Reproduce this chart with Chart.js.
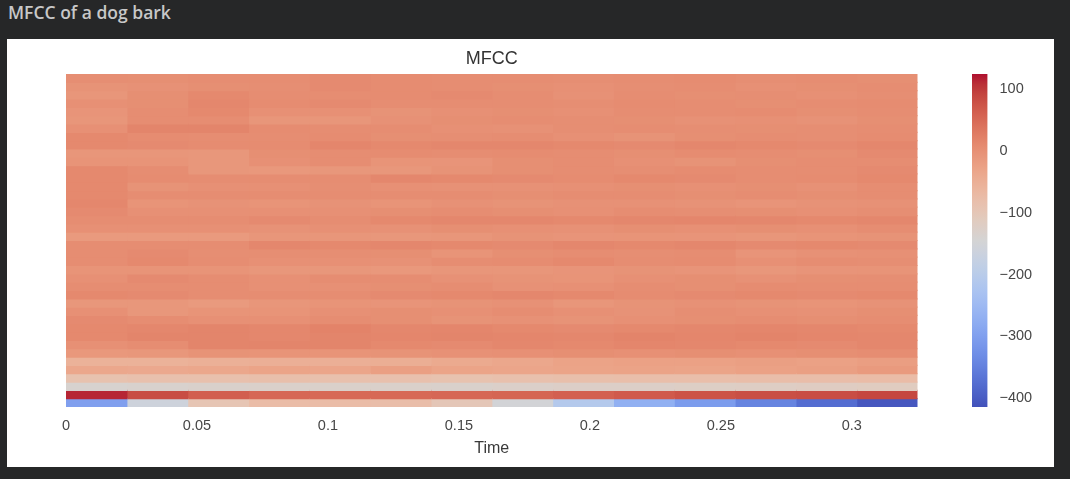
<!DOCTYPE html>
<html>
<head>
<meta charset="utf-8">
<script src="https://cdn.jsdelivr.net/npm/chart.js@4.4.1/dist/chart.umd.min.js"></script>
<style>
  html, body { margin: 0; padding: 0; width: 1070px; height: 479px; overflow: hidden; background: #262728; }
  #hdr { position: absolute; left: 8px; top: 0; line-height: 23px; font: 600 17.5px "Open Sans", "Noto Sans", sans-serif; color: #c8c8c8; white-space: nowrap; }
  #panel { position: absolute; left: 7px; top: 39px; width: 1047px; height: 428px; background: #ffffff; }
  canvas { position: absolute; left: 0; top: 0; }
</style>
</head>
<body>
<div id="hdr">MFCC of a dog bark</div>
<div id="panel"></div>
<canvas id="heat" width="1070" height="479"></canvas>
<canvas id="cbar" width="1070" height="479"></canvas>
<script>
// ---- data: MFCC coefficients (row index 0 = bottom), 14 time frames each ----
const c00 = [-300, -160, -95, -75, -75, -78, -100, -150, -210, -270, -306, -344, -376, -406];
const c01 = [113, 82, 62, 52, 50, 50, 52, 55, 60, 67, 75, 80, 82, 88];
const c02 = [-138, -135, -132, -130, -130, -130, -132, -128, -125, -125, -122, -120, -118, -115];
const c03 = [-88, -85, -85, -82, -85, -85, -88, -85, -82, -80, -80, -78, -78, -75];
const c04 = [-35, -38, -35, -30, -32, -22, -30, -32, -30, -28, -30, -25, -22, -15];
const c05 = [-55, -55, -52, -50, -50, -48, -40, -35, -28, -25, -25, -22, -25, -20];
const c06 = [-12, -10, -4, -5, -5, -4, -2, 0, 2, 0, 2, 0, 2, 4];
const c07 = [0, 5, 15, 15, 15, 10, 8, 12, 10, 14, 12, 10, 8, 12];
const c08 = [10, 15, 15, 12, 15, 14, 15, 14, 12, 16, 14, 16, 14, 12];
const c09 = [10, 12, 15, 12, 18, 12, 14, 10, 8, 10, 12, 14, 12, 10];
const c10 = [8, 5, 0, 0, 5, 2, -4, -2, -4, 0, 2, 4, 2, 4];
const c11 = [0, -10, -5, -5, 0, 2, 0, 4, 0, -3, 3, 0, -2, 2];
const c12 = [-10, -10, -15, -8, -5, -6, -4, -2, -8, -4, -2, -4, -5, -3];
const c13 = [10, 8, 5, 5, 5, 8, 10, 12, 10, 6, 8, 10, 8, 10];
const c14 = [5, 5, 5, 0, 0, 2, 4, -2, 0, 4, 2, 6, 4, 5];
const c15 = [0, 8, 5, 0, 5, 5, -2, -4, -5, 0, 2, -2, 2, 3];
const c16 = [-5, -5, -5, -10, -10, -12, -8, -8, -6, -4, -6, -10, -6, -5];
const c17 = [5, 10, 5, 0, 0, -2, 4, 6, 10, 4, 6, 0, 4, 3];
const c18 = [5, 8, 3, 3, 3, 2, -5, 2, 5, 3, 4, -6, -2, 0];
const c19 = [5, 5, 5, 12, 10, 12, 10, 8, 12, 10, 12, 8, 10, 8];
const c20 = [-15, -15, -14, -8, -8, -10, -8, -4, -6, -5, -6, -8, -5, -4];
const c21 = [0, 0, 0, -3, 0, -2, 2, 0, -2, 2, 0, 2, 0, 4];
const c22 = [5, 5, 5, 8, 5, 10, 12, 12, 10, 12, 14, 12, 10, 12];
const c23 = [8, 0, 0, 0, 0, 2, 4, 2, 0, 4, 3, 2, 0, 3];
const c24 = [12, -5, -3, -5, -3, -5, -2, -4, -2, -2, -3, -6, -3, -2];
const c25 = [10, 5, 5, 5, 5, 4, 4, 2, 4, 5, 2, 4, 2, 4];
const c26 = [10, -4, 0, 0, 3, 0, -2, -2, 0, 2, 0, 2, -2, 4];
const c27 = [10, 6, 5, 5, 5, 12, 10, 8, 6, 10, 8, 5, 6, 10];
const c28 = [10, 5, -10, -12, -10, -10, -4, 2, 5, 3, 6, 4, 5, 8];
const c29 = [-5, -5, -10, 0, 5, -5, -6, 2, 4, 0, -4, 2, 4, 5];
const c30 = [-8, -8, -10, 2, 5, 6, 4, 6, 5, 2, 6, 4, 2, 8];
const c31 = [10, 8, 6, 6, 14, 10, 12, 12, 10, 8, 12, 10, 8, 12];
const c32 = [10, 6, 5, 5, 6, 2, 3, 4, 0, -4, 2, 5, 3, 6];
const c33 = [0, 15, 15, 6, 5, 4, 0, -2, 3, 5, 3, 2, 3, 5];
const c34 = [-8, 4, 5, -8, -8, -2, 2, 5, 3, 2, -2, 0, -3, 2];
const c35 = [-6, 5, 10, 0, 0, -4, 0, 2, 0, 4, 5, 6, 2, 4];
const c36 = [0, 2, 12, 6, 8, 5, 5, 4, 3, 6, 5, 2, 4, 6];
const c37 = [-8, 2, 10, 5, 5, 6, 8, 5, -2, 4, 2, 3, 0, 3];
const c38 = [-4, -2, 2, 3, 8, 6, 4, 2, 0, 3, 4, 0, 2, 5];
const c39 = [3, 2, 4, 5, 8, 6, 5, 4, 3, 5, 6, 3, 4, 2];

const hopSeconds = 512 / 22050;          // frame duration
const frameCount = 14;
const timeTicks = [0, 0.05, 0.1, 0.15, 0.2, 0.25, 0.3];
const timeTickLabels = ['0', '0.05', '0.1', '0.15', '0.2', '0.25', '0.3'];
const colorMin = -414;
const colorMax = 124;
const colorbarTicks = [-400, -300, -200, -100, 0, 100];

// ---- colormap (coolwarm), slightly muted like the reference rendering ----
const coolwarm = [
  [59,76,192],[68,90,204],[77,104,215],[87,117,225],[98,130,234],[108,142,241],[119,154,247],[130,165,251],
  [141,176,254],[152,185,255],[163,194,255],[174,201,253],[184,208,249],[194,213,244],[204,217,238],[213,219,230],
  [221,221,221],[229,216,209],[236,211,197],[241,204,185],[245,196,173],[247,187,160],[247,177,148],[247,166,135],
  [244,154,123],[241,141,111],[236,127,99],[229,112,88],[222,96,77],[213,80,66],[203,62,56],[192,40,47],[180,4,38]
];
function mute(v) { return Math.round(v * 0.9 + 128 * 0.1); }
function stopColor(c) { return `rgb(${mute(c[0])},${mute(c[1])},${mute(c[2])})`; }
function colorAt(t) {
  t = Math.max(0, Math.min(1, t));
  const p = t * (coolwarm.length - 1);
  const i = Math.min(Math.floor(p), coolwarm.length - 2);
  const f = p - i;
  const a = coolwarm[i], b = coolwarm[i + 1];
  return stopColor([0, 1, 2].map(k => a[k] + (b[k] - a[k]) * f));
}
function colorFor(v) { return colorAt((v - colorMin) / (colorMax - colorMin)); }

const mfccRows = [c00,c01,c02,c03,c04,c05,c06,c07,c08,c09,c10,c11,c12,c13,c14,c15,c16,c17,c18,c19,
                  c20,c21,c22,c23,c24,c25,c26,c27,c28,c29,c30,c31,c32,c33,c34,c35,c36,c37,c38,c39];
const coefLabels = mfccRows.map((_, i) => String(i));
const frameIdx = Array.from({ length: frameCount }, (_, f) => f);

const textFont = "'Liberation Sans', Arial, sans-serif";

const heatDatasets = frameIdx.map(f => ({
  data: mfccRows.map(() => [f * hopSeconds, (f + 1) * hopSeconds]),
  backgroundColor: mfccRows.map(row => colorFor(row[f])),
  borderWidth: 0,
  inflateAmount: 0.6,
  barPercentage: 1,
  categoryPercentage: 1,
  grouped: false
}));

new Chart(document.getElementById('heat'), {
  type: 'bar',
  data: { labels: coefLabels, datasets: heatDatasets },
  options: {
    indexAxis: 'y',
    responsive: false,
    animation: false,
    events: [],
    layout: { padding: { left: 66, right: 152.5, top: 39, bottom: 18.4 } },
    plugins: {
      legend: { display: false },
      tooltip: { enabled: false },
      title: {
        display: true,
        text: 'MFCC',
        color: '#333333',
        font: { family: textFont, size: 18, weight: 'normal' },
        padding: { top: 9, bottom: 4.4 }
      }
    },
    scales: {
      y: { type: 'category', display: false, reverse: true },
      x: {
        type: 'linear',
        min: 0,
        max: frameCount * hopSeconds,
        grid: { display: false, drawTicks: false },
        border: { display: false },
        afterFit: s => { s.height = 53.6; },
        afterBuildTicks: s => { s.ticks = timeTicks.map(v => ({ value: v })); },
        ticks: {
          padding: 10,
          maxRotation: 0,
          autoSkip: false,
          color: '#474747',
          font: { family: textFont, size: 14.5 },
          callback: (v, i) => timeTickLabels[i]
        },
        title: {
          display: true,
          text: 'Time',
          color: '#3a3a3a',
          font: { family: textFont, size: 16 },
          padding: { top: 5, bottom: 2 }
        }
      }
    }
  }
});

// ---- colorbar ----
new Chart(document.getElementById('cbar'), {
  type: 'bar',
  data: {
    labels: [''],
    datasets: [{
      data: [[colorMin, colorMax]],
      borderWidth: 0,
      barPercentage: 1,
      categoryPercentage: 1,
      backgroundColor: ctx => {
        const area = ctx.chart.chartArea;
        if (!area) return '#dddddd';
        const g = ctx.chart.ctx.createLinearGradient(0, area.bottom, 0, area.top);
        coolwarm.forEach((c, i) => g.addColorStop(i / (coolwarm.length - 1), stopColor(c)));
        return g;
      }
    }]
  },
  options: {
    responsive: false,
    animation: false,
    events: [],
    layout: { padding: { left: 972, right: 22.5, top: 74, bottom: 72 } },
    plugins: { legend: { display: false }, tooltip: { enabled: false } },
    scales: {
      x: { display: false },
      y: {
        position: 'right',
        min: colorMin,
        max: colorMax,
        grid: { display: false, drawTicks: false },
        border: { display: false },
        afterFit: s => { s.width = 60; },
        afterBuildTicks: s => { s.ticks = colorbarTicks.map(v => ({ value: v })); },
        ticks: {
          padding: 12,
          color: '#474747',
          font: { family: textFont, size: 14.5 },
          callback: v => (v < 0 ? '\u2212' + Math.abs(v) : String(v))
        }
      }
    }
  }
});
</script>
</body>
</html>
